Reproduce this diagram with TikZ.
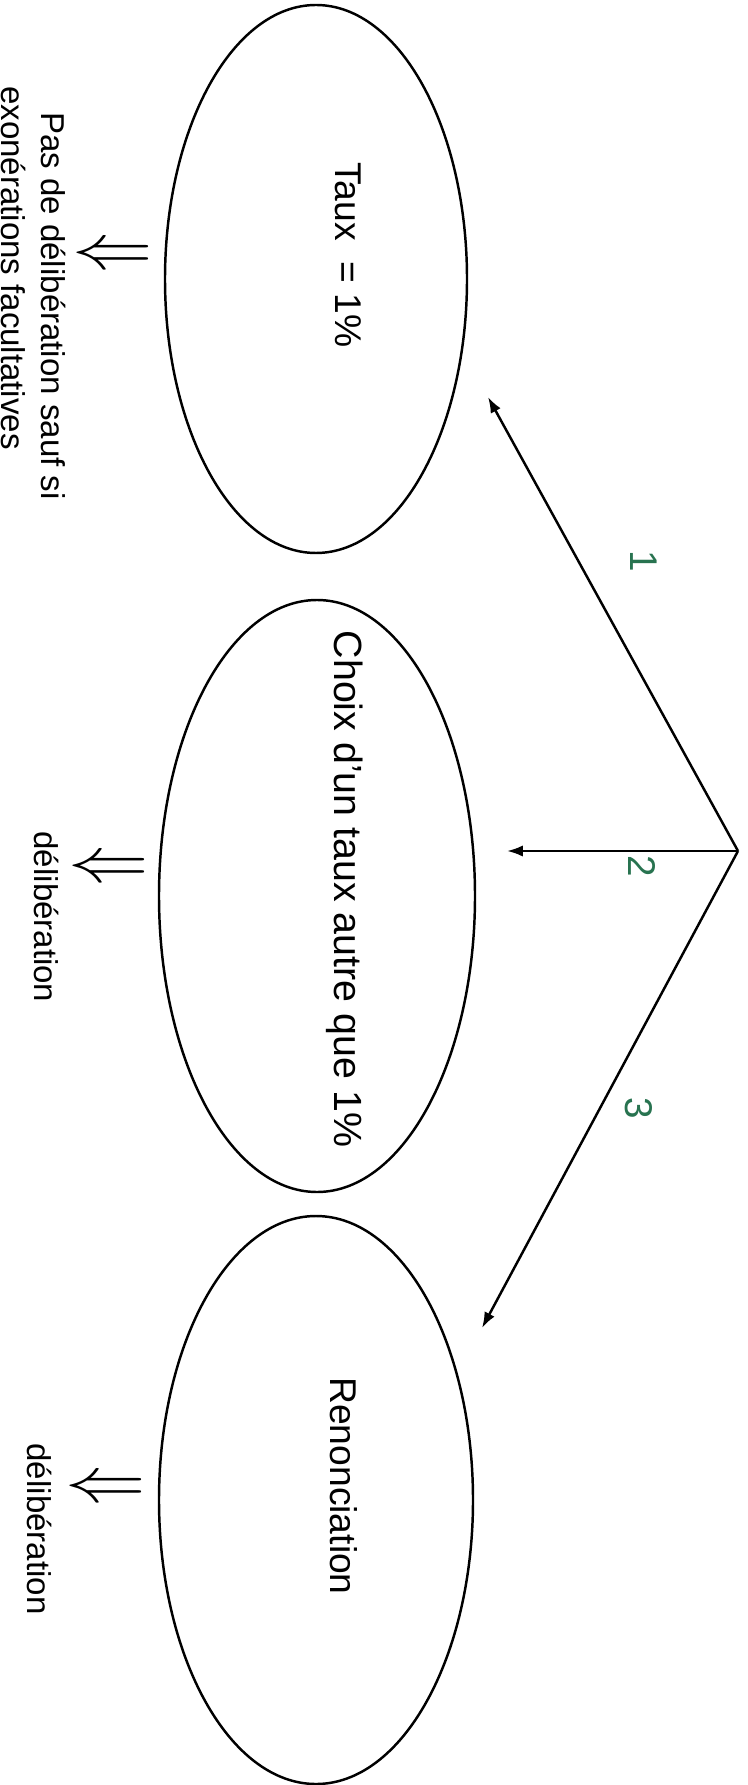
\documentclass[tikz,border=0pt]{standalone}
\usepackage{fontspec}
\setmainfont{Liberation Sans}
\usepackage{amsmath,amssymb}
\usetikzlibrary{arrows.meta,shapes.geometric}
\definecolor{vertnum}{RGB}{40,115,80}

\begin{document}
\begin{tikzpicture}[>={Latex[length=4.5pt,width=3.2pt]},
    bulle/.style={draw,ellipse,line width=0.7pt,inner sep=0pt},
    titre/.style={rotate=-90,font=\fontsize{10.6}{12}\selectfont},
    note/.style={rotate=-90,font=\fontsize{9.4}{11.4}\selectfont},
    donc/.style={rotate=-90,inner sep=0pt},
    num/.style={rotate=-90,text=vertnum,font=\fontsize{11}{11}\selectfont},
    fleche/.style={->,line width=0.7pt}]
    \useasboundingbox (0,0) rectangle (7.47,-17.85);
    % ellipses
    \node[bulle,minimum width=3.02cm,minimum height=5.48cm] (taux) at (3.16,-2.79) {};
    \node[bulle,minimum width=3.16cm,minimum height=5.92cm] (choix) at (3.17,-8.96) {};
    \node[bulle,minimum width=3.14cm,minimum height=5.68cm] (renon) at (3.16,-15.00) {};
    % texts in the ellipses
    \node[titre] (ttaux) at (3.48,-2.55) {Taux~ = 1\%};
    \node[titre,font=\fontsize{11.2}{12}\selectfont] (tchoix) at (3.45,-8.89) {Choix d'un taux autre que 1\%};
    \node[titre] (trenon) at (3.44,-14.86) {Renonciation};
    % the three choices
    \coordinate (apex) at (7.38,-8.51);
    \coordinate (pt1) at (4.88,-3.97);
    \coordinate (pt2) at (5.07,-8.51);
    \coordinate (pt3) at (4.82,-13.28);
    \draw[fleche] (apex) -- (pt1);
    \draw[fleche] (apex) -- (pt2);
    \draw[fleche] (apex) -- (pt3);
    \node[num] (lab1) at (6.44,-5.61) {1};
    \node[num] (lab2) at (6.42,-8.66) {2};
    \node[num] (lab3) at (6.39,-11.08) {3};
    % consequences
    \node[donc] (d1) at (1.13,-2.53) {\scalebox{1.8}[2.3]{$\Downarrow$}};
    \node[donc] (d2) at (1.09,-8.66) {\scalebox{1.8}[2.3]{$\Downarrow$}};
    \node[donc] (d3) at (1.06,-14.86) {\scalebox{1.8}[2.3]{$\Downarrow$}};
    \node[note] (cons1) at (0.53,-3.06) {Pas de délibération sauf si};
    \node[note] (cons1b) at (0.14,-2.68) {exonérations facultatives};
    \node[note] (cons2) at (0.47,-9.17) {délibération};
    \node[note] (cons3) at (0.40,-15.29) {délibération};
\end{tikzpicture}
\end{document}
